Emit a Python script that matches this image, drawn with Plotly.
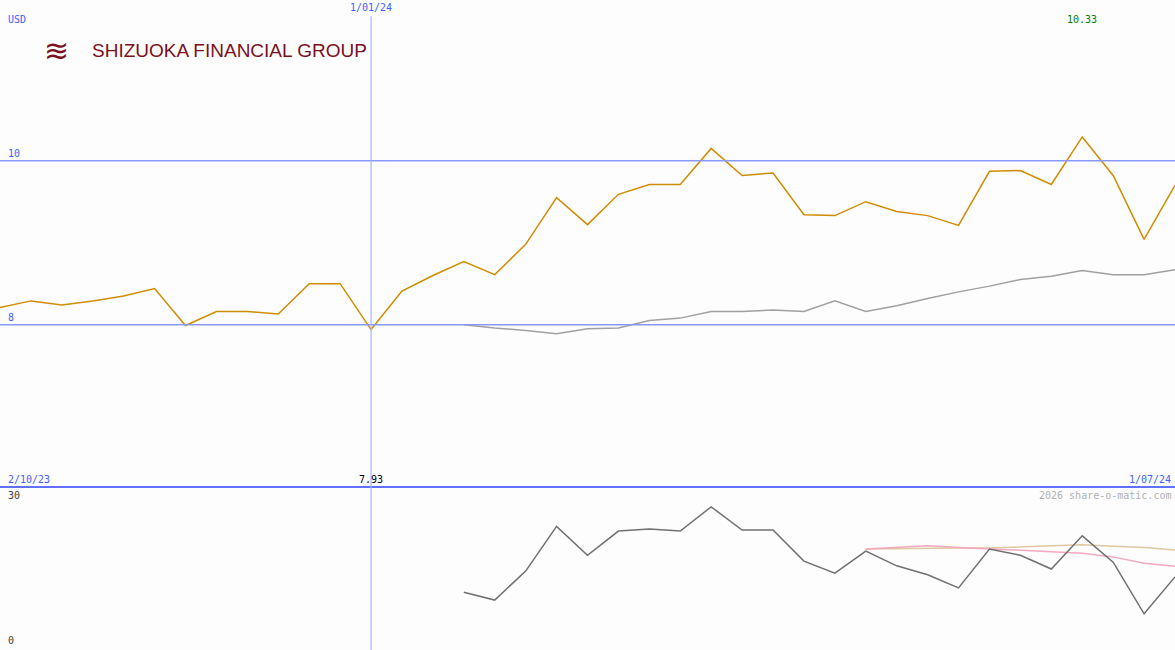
import plotly.graph_objects as go
import pandas as pd

dates = pd.date_range("2023-10-02", periods=39, freq="7D").strftime("%Y-%m-%d").tolist()
price = [8.21, 8.29, 8.24, 8.29, 8.35, 8.44, 7.99, 8.16, 8.16, 8.13, 8.5, 8.5, 7.94,
         8.41, 8.6, 8.77, 8.61, 8.98, 9.55, 9.22, 9.59, 9.71, 9.71, 10.15, 9.82, 9.85,
         9.34, 9.33, 9.5, 9.38, 9.33, 9.21, 9.87, 9.88, 9.71, 10.29, 9.82, 9.04, 9.7]
ma = [None]*15 + [8.0, 7.96, 7.93, 7.89, 7.95, 7.96, 8.05, 8.08, 8.16, 8.16, 8.18, 8.16,
                  8.29, 8.16, 8.23, 8.32, 8.4, 8.47, 8.55, 8.59, 8.66, 8.61, 8.61, 8.67]
vol = [None]*15 + [10.6, 9.1, 14.6, 23.1, 17.6, 22.2, 22.6, 22.2, 26.8, 22.4, 22.4, 16.5,
                   14.2, 18.4, 15.6, 13.9, 11.4, 18.8, 17.6, 15.0, 21.3, 16.3, 6.5, 13.5]
vol_ma1 = [None]*28 + [18.8, 19.1, 19.4, 19.1, 18.8, 18.5, 18.3, 18.0, 17.3, 16.1, 15.5]
vol_ma2 = [None]*28 + [18.8, 18.9, 19.0, 19.0, 19.0, 19.2, 19.4, 19.6, 19.3, 19.1, 18.6]

x = list(range(len(dates)))
fig = go.Figure()
fig.add_trace(go.Scatter(x=x, y=price, mode="lines", line=dict(color="#d08c00", width=1.5), yaxis="y"))
fig.add_trace(go.Scatter(x=x, y=ma, mode="lines", line=dict(color="#a0a0a0", width=1.5), yaxis="y"))
fig.add_trace(go.Scatter(x=x, y=vol_ma2, mode="lines", line=dict(color="#e0c8a0", width=1.5), xaxis="x2", yaxis="y2"))
fig.add_trace(go.Scatter(x=x, y=vol_ma1, mode="lines", line=dict(color="#f4a8c0", width=1.5), xaxis="x2", yaxis="y2"))
fig.add_trace(go.Scatter(x=x, y=vol, mode="lines", line=dict(color="#707070", width=1.5), xaxis="x2", yaxis="y2"))

f = dict(family="DejaVu Sans Mono", size=10)
ann = [
    dict(x=0.005, y=1, xref="paper", yref="paper", text="USD", font=dict(color="#4060ff", **f), xanchor="left", yanchor="top", showarrow=False, yshift=-12),
    dict(x=12, y=1, xref="x", yref="paper", text="1/01/24", font=dict(color="#4060ff", **f), xanchor="center", yanchor="top", showarrow=False, yshift=0),
    dict(x=35, y=1, xref="x", yref="paper", text="10.33", font=dict(color="#008000", **f), xanchor="center", yanchor="top", showarrow=False, yshift=-12),
    dict(x=0.005, y=10, xref="paper", yref="y", text="10", font=dict(color="#4060ff", **f), xanchor="left", yanchor="bottom", showarrow=False),
    dict(x=0.005, y=8, xref="paper", yref="y", text="8", font=dict(color="#4060ff", **f), xanchor="left", yanchor="bottom", showarrow=False),
    dict(x=0.005, y=6.02, xref="paper", yref="y", text="2/10/23", font=dict(color="#4060ff", **f), xanchor="left", yanchor="bottom", showarrow=False),
    dict(x=12, y=6.02, xref="x", yref="y", text="7.93", font=dict(color="#000000", **f), xanchor="center", yanchor="bottom", showarrow=False),
    dict(x=0.998, y=6.02, xref="paper", yref="y", text="1/07/24", font=dict(color="#4060ff", **f), xanchor="right", yanchor="bottom", showarrow=False),
    dict(x=0.998, y=30.3, xref="paper", yref="y2", text="2026 share-o-matic.com", font=dict(color="#b0b0b0", **f), xanchor="right", yanchor="top", showarrow=False),
    dict(x=0.005, y=30.3, xref="paper", yref="y2", text="30", font=dict(color="#404040", **f), xanchor="left", yanchor="top", showarrow=False),
    dict(x=0.005, y=0, xref="paper", yref="y2", text="0", font=dict(color="#404040", **f), xanchor="left", yanchor="bottom", showarrow=False),
    dict(x=0.0766, y=0.922, xref="paper", yref="paper", text="SHIZUOKA FINANCIAL GROUP", font=dict(family="Liberation Sans", size=19, color="#7a1020"), xanchor="left", yanchor="middle", showarrow=False),
    dict(x=0.048, y=0.922, xref="paper", yref="paper", text="≋", font=dict(family="DejaVu Sans", size=30, color="#7a1020"), xanchor="center", yanchor="middle", showarrow=False),
]
shapes = [
    dict(type="line", xref="paper", x0=0, x1=1, yref="y", y0=10, y1=10, line=dict(color="#8898ff", width=1.5)),
    dict(type="line", xref="paper", x0=0, x1=1, yref="y", y0=8, y1=8, line=dict(color="#8898ff", width=1.5)),
    dict(type="line", xref="paper", x0=0, x1=1, yref="paper", y0=163/650, y1=163/650, line=dict(color="#6070ff", width=2)),
    dict(type="line", xref="x", x0=12, x1=12, yref="paper", y0=0, y1=0.975, line=dict(color="#a8b4ff", width=1.2)),
]
fig.update_layout(
    width=1175, height=650, margin=dict(l=0, r=0, t=0, b=0),
    paper_bgcolor="#fdfdfd", plot_bgcolor="#fdfdfd", showlegend=False,
    xaxis=dict(range=[0, 38], visible=False, domain=[0, 1]),
    xaxis2=dict(range=[0, 38], visible=False, anchor="y2", matches="x"),
    yaxis=dict(range=[6.02, 11.96], visible=False, domain=[163/650, 1]),
    yaxis2=dict(range=[-0.38, 30.57], visible=False, domain=[0, 163/650], anchor="x2"),
    annotations=ann, shapes=shapes,
)
fig.write_html("out.html", config={"displayModeBar": False},
               post_script="document.body.style.margin='0';document.body.style.overflow='hidden';")
